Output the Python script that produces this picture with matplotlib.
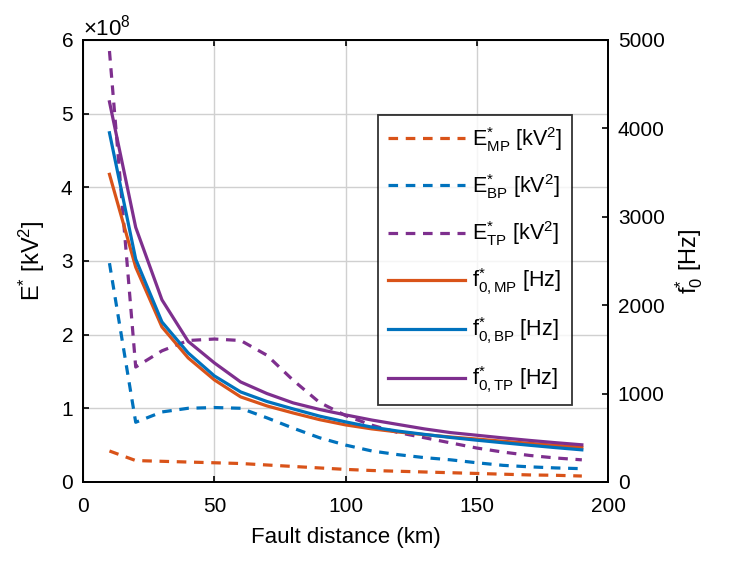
"""Fault distance vs E* (left axis) and f0* (right axis)."""

import matplotlib
matplotlib.use("Agg")
import matplotlib.pyplot as plt
from matplotlib.ticker import ScalarFormatter

plt.rcParams["font.family"] = ["Liberation Sans", "DejaVu Sans"]
plt.rcParams["mathtext.fontset"] = "custom"
plt.rcParams["mathtext.rm"] = "Liberation Sans"
plt.rcParams["mathtext.it"] = "Liberation Sans:italic"
plt.rcParams["mathtext.bf"] = "Liberation Sans:bold"

RED = "#D95319"
BLUE = "#0072BD"
PURPLE = "#7E2F8E"

distance_km = [10, 20, 30, 40, 50, 60, 70, 80, 90, 100,
               110, 120, 130, 140, 150, 160, 170, 180, 190]

e_mp = [0.42, 0.29, 0.28, 0.27, 0.26, 0.25, 0.23, 0.21, 0.19, 0.17,
        0.155, 0.145, 0.135, 0.125, 0.115, 0.105, 0.095, 0.09, 0.08]
e_bp = [2.97, 0.81, 0.95, 1.0, 1.01, 1.0, 0.87, 0.73, 0.6, 0.5,
        0.42, 0.37, 0.33, 0.3, 0.26, 0.225, 0.205, 0.19, 0.18]
e_tp = [5.85, 1.56, 1.78, 1.92, 1.94, 1.92, 1.72, 1.38, 1.08, 0.9,
        0.77, 0.67, 0.6, 0.53, 0.46, 0.405, 0.36, 0.325, 0.3]
e_mp = [v * 1e8 for v in e_mp]
e_bp = [v * 1e8 for v in e_bp]
e_tp = [v * 1e8 for v in e_tp]

# f0* in Hz
f_mp = [3480, 2430, 1753, 1403, 1154, 962, 860, 780, 705, 645,
        600, 565, 535, 508, 485, 460, 437, 414, 392]
f_bp = [3950, 2520, 1810, 1459, 1199, 1018, 910, 826, 745, 679,
        620, 575, 538, 503, 472, 443, 415, 388, 363]
f_tp = [4300, 2880, 2060, 1590, 1346, 1131, 1000, 894, 820, 758,
        700, 650, 600, 558, 528, 498, 470, 444, 420]

DASH = (3.0, 2.4)
LW = 2.3

fig = plt.figure(figsize=(7.3, 5.63), dpi=100)
ax = fig.add_axes([0.114, 0.144, 0.719, 0.785])
ax2 = ax.twinx()

lines = []
for vals, color, name in ((e_mp, RED, "MP"), (e_bp, BLUE, "BP"), (e_tp, PURPLE, "TP")):
    (ln,) = ax.plot(distance_km, vals, color=color, lw=LW, dashes=DASH,
                    label=r"$\mathrm{E^{*}_{%s}}$ [kV$^{2}$]" % name)
    lines.append(ln)
for vals, color, name in ((f_mp, RED, "MP"), (f_bp, BLUE, "BP"), (f_tp, PURPLE, "TP")):
    (ln,) = ax2.plot(distance_km, vals, color=color, lw=LW,
                     label=r"$\mathrm{f^{*}_{0,%s}}$ [Hz]" % name)
    lines.append(ln)

ax.set_xlim(0, 200)
ax.set_ylim(0, 6e8)
ax2.set_ylim(0, 5000)
ax.set_xticks([0, 50, 100, 150, 200])
ax.set_yticks([0, 1e8, 2e8, 3e8, 4e8, 5e8, 6e8])
ax2.set_yticks([0, 1000, 2000, 3000, 4000, 5000])

fmt = ScalarFormatter(useMathText=True)
fmt.set_powerlimits((0, 0))
ax.yaxis.set_major_formatter(fmt)
ax.yaxis.get_offset_text().set_fontsize(16)

ax.grid(True, color="#d0d0d0", lw=1.0)
ax.set_axisbelow(True)

for a in (ax, ax2):
    a.tick_params(direction="in", labelsize=15, length=4, width=1.2, colors="black")
    for sp in a.spines.values():
        sp.set_linewidth(1.3)
        sp.set_color("black")
ax.tick_params(axis="x", top=True, pad=11)
ax.tick_params(axis="y", pad=7)
ax2.tick_params(axis="y", pad=7)

ax.set_xlabel("Fault distance (km)", fontsize=16, labelpad=8)
ax.set_ylabel(r"E$^{*}$ [kV$^{2}$]", fontsize=17, labelpad=10)
ax2.set_ylabel(r"f$^{*}_{0}$ [Hz]", fontsize=17, labelpad=6)

leg = ax2.legend(handles=lines, loc="upper left", bbox_to_anchor=(0.562, 0.83),
                 borderaxespad=0.0,
                 fontsize=15.5, handlelength=3.6, handletextpad=0.3,
                 labelspacing=0.85, borderpad=0.45, frameon=True, fancybox=False)
leg.get_frame().set_edgecolor("black")
leg.get_frame().set_linewidth(1.3)

fig.savefig("out.png", dpi=100)
